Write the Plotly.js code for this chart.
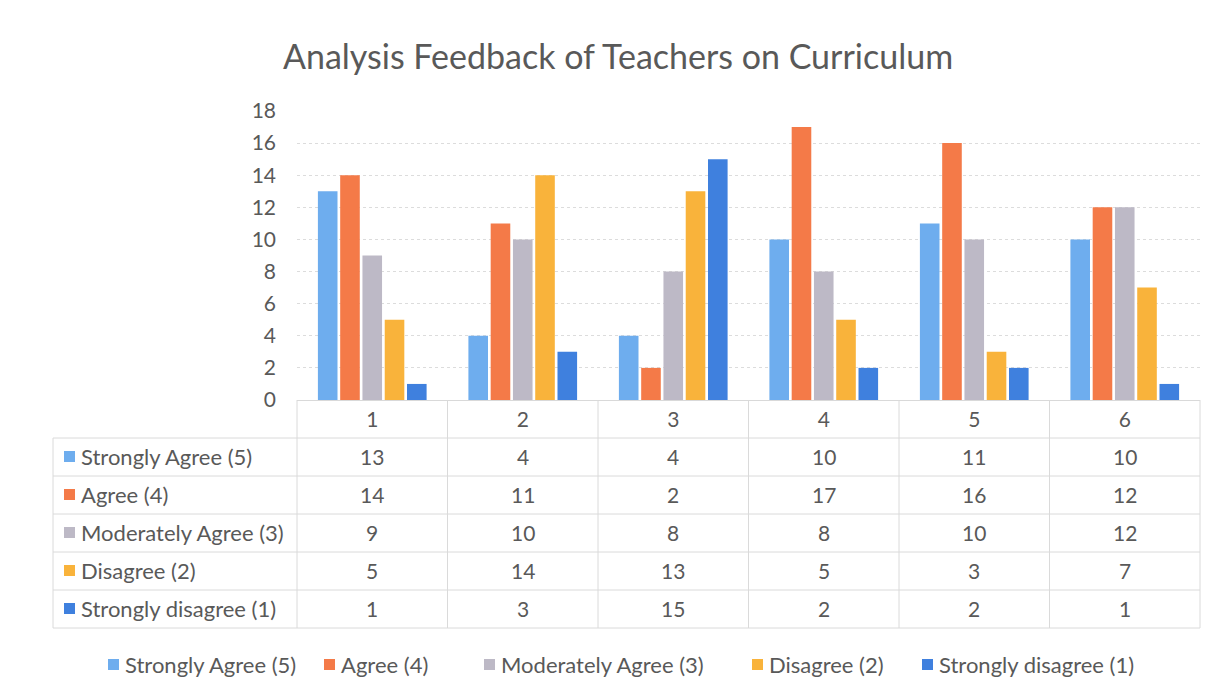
<!DOCTYPE html>
<html>
<head>
<meta charset="utf-8">
<script src="https://cdn.plot.ly/plotly-3.0.1.min.js"></script>
<style>html,body{margin:0;padding:0;background:#fff;}#chart{width:1219px;height:698px;}</style>
</head>
<body>
<div id="chart"></div>
<script>
// ---- data ----
const categories = ["1", "2", "3", "4", "5", "6"];
const seriesNames = ["Strongly Agree (5)", "Agree (4)", "Moderately Agree (3)", "Disagree (2)", "Strongly disagree (1)"];
const stronglyAgree = [13, 4, 4, 10, 11, 10];
const agree = [14, 11, 2, 17, 16, 12];
const moderatelyAgree = [9, 10, 8, 8, 10, 12];
const disagree = [5, 14, 13, 5, 3, 7];
const stronglyDisagree = [1, 3, 15, 2, 2, 1];
const yTicks = [0, 2, 4, 6, 8, 10, 12, 14, 16, 18];

// ---- style ----
const colors = ["#6EADEE", "#F47A48", "#BDB9C6", "#F9B33B", "#3F80DE"];
const FONT = "Lato, 'Open Sans', sans-serif";
const TXT = "#595959";
const seriesValues = [stronglyAgree, agree, moderatelyAgree, disagree, stronglyDisagree];

// plot area in pixels
const L = 297, R = 1200, T = 111, B = 400, W = 1219, H = 698;
const px2x = p => (p - L) / (R - L);
const px2y = p => (B - p) / (B - T);

const traces = seriesNames.map((n, i) => ({
  type: "bar", name: n, x: categories, y: seriesValues[i],
  marker: {color: colors[i]}, hoverinfo: "x+y+name"
}));

const shapes = [];
const annotations = [];
const lineColor = "#DADADA";
const rowTop = 400, rowH = 38, tableLeft = 53;
const nRows = seriesNames.length;
// horizontal lines
for (let r = 1; r <= nRows + 1; r++) {
  const y = rowTop + r * rowH;
  shapes.push({type: "line", xref: "paper", yref: "paper", x0: px2x(tableLeft), x1: px2x(R), y0: px2y(y), y1: px2y(y), line: {color: lineColor, width: 1}});
}
// vertical lines
shapes.push({type: "line", xref: "paper", yref: "paper", x0: px2x(tableLeft), x1: px2x(tableLeft), y0: px2y(rowTop + rowH), y1: px2y(rowTop + (nRows + 1) * rowH), line: {color: lineColor, width: 1}});
for (let c = 0; c <= categories.length; c++) {
  const x = c / categories.length;
  shapes.push({type: "line", xref: "paper", yref: "paper", x0: x, x1: x, y0: px2y(rowTop), y1: px2y(rowTop + (nRows + 1) * rowH), line: {color: lineColor, width: 1}});
}
// table row labels and values
seriesNames.forEach((n, i) => {
  const yc = rowTop + (i + 1.5) * rowH;
  shapes.push({type: "rect", xref: "paper", yref: "paper", x0: px2x(64), x1: px2x(75), y0: px2y(yc - 6), y1: px2y(yc + 5), fillcolor: colors[i], line: {width: 0}});
  annotations.push({xref: "paper", yref: "paper", x: px2x(79), y: px2y(yc - 1), xanchor: "left", yanchor: "middle", text: n, showarrow: false, font: {family: FONT, size: 22, color: TXT}});
  seriesValues[i].forEach((v, j) => {
    annotations.push({xref: "x", yref: "paper", x: j, y: px2y(yc - 1), xanchor: "center", yanchor: "middle", text: String(v), showarrow: false, font: {family: FONT, size: 21, color: TXT}});
  });
});
// bottom legend
const legendX = [108, 324, 484, 752, 922];
const legendY = 665;
seriesNames.forEach((n, i) => {
  shapes.push({type: "rect", xref: "paper", yref: "paper", x0: px2x(legendX[i]), x1: px2x(legendX[i] + 11), y0: px2y(legendY - 6), y1: px2y(legendY + 5), fillcolor: colors[i], line: {width: 0}});
  annotations.push({xref: "paper", yref: "paper", x: px2x(legendX[i] + 15), y: px2y(legendY - 1), xanchor: "left", yanchor: "middle", text: n, showarrow: false, font: {family: FONT, size: 22, color: TXT}});
});

const layout = {
  width: W, height: H,
  margin: {l: L, r: W - R, t: T, b: H - B, pad: 0},
  paper_bgcolor: "#ffffff", plot_bgcolor: "#ffffff",
  title: {text: "Analysis Feedback of Teachers on Curriculum", x: 0.507, xanchor: "center", y: 1 - 57 / H, yanchor: "middle", font: {family: FONT, size: 34, color: TXT}},
  showlegend: false,
  barmode: "group", bargap: 0.26, bargroupgap: 0.12,
  xaxis: {type: "category", range: [-0.5, 5.5], showgrid: false, zeroline: false, showline: false, ticks: "", tickfont: {family: FONT, size: 21, color: TXT}, ticklabelstandoff: 5, fixedrange: true},
  yaxis: {range: [0, 18], tickvals: yTicks, showgrid: true, gridcolor: "#DCDCDC", griddash: "dot", gridwidth: 1, zeroline: true, zerolinecolor: "#D9D9D9", zerolinewidth: 1, showline: false, ticks: "", tickfont: {family: FONT, size: 21, color: TXT}, ticklabelstandoff: 20, fixedrange: true},
  shapes: shapes, annotations: annotations
};

Plotly.newPlot("chart", traces, layout, {displayModeBar: false, staticPlot: true});
</script>
</body>
</html>
